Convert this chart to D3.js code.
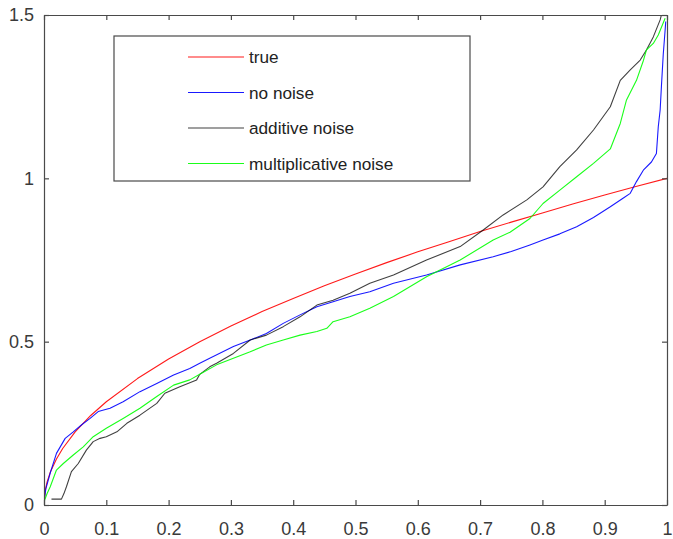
<!DOCTYPE html>
<html>
<head>
<meta charset="utf-8">
<script src="https://cdn.jsdelivr.net/npm/d3@7"></script>
<style>
  html, body { margin: 0; padding: 0; background: #fff; }
  svg { display: block; }
  text { font-family: "Liberation Sans", Arial, Helvetica, sans-serif; }
</style>
</head>
<body>
<svg id="chart" width="673" height="539"></svg>
<script>
// ---- data ----
const xTicks = [0, 0.1, 0.2, 0.3, 0.4, 0.5, 0.6, 0.7, 0.8, 0.9, 1];
const xTickLabels = ["0", "0.1", "0.2", "0.3", "0.4", "0.5", "0.6", "0.7", "0.8", "0.9", "1"];
const yTicks = [0, 0.5, 1, 1.5];
const yTickLabels = ["0", "0.5", "1", "1.5"];

const seriesNames = ["true", "no noise", "additive noise", "multiplicative noise"];

const trueCurve = [[0,0],[0.002,0.045],[0.005,0.071],[0.01,0.1],[0.02,0.141],[0.03,0.173],[0.05,0.224],[0.075,0.274],[0.1,0.316],[0.15,0.387],[0.2,0.447],[0.25,0.5],[0.3,0.548],[0.35,0.592],[0.4,0.632],[0.45,0.671],[0.5,0.707],[0.55,0.742],[0.6,0.775],[0.65,0.806],[0.7,0.837],[0.75,0.866],[0.8,0.894],[0.85,0.922],[0.9,0.949],[0.95,0.975],[1,1]];

const noNoise = [[0,0.01],[0.003,0.05],[0.01,0.098],[0.02,0.158],[0.034,0.204],[0.047,0.224],[0.06,0.245],[0.074,0.265],[0.087,0.286],[0.106,0.296],[0.127,0.316],[0.154,0.347],[0.181,0.372],[0.208,0.398],[0.234,0.418],[0.25,0.434],[0.266,0.449],[0.304,0.485],[0.331,0.505],[0.357,0.525],[0.384,0.556],[0.411,0.582],[0.438,0.607],[0.464,0.622],[0.491,0.638],[0.523,0.653],[0.561,0.679],[0.614,0.704],[0.668,0.735],[0.721,0.760],[0.75,0.776],[0.78,0.796],[0.801,0.811],[0.828,0.83],[0.855,0.852],[0.882,0.88],[0.909,0.913],[0.93,0.94],[0.941,0.954],[0.951,0.99],[0.962,1.025],[0.975,1.05],[0.983,1.076],[0.986,1.158],[0.989,1.209],[0.991,1.28],[0.994,1.38],[0.997,1.454],[0.998,1.48]];

const additiveNoise = [[0.012,0.018],[0.028,0.018],[0.032,0.035],[0.036,0.056],[0.044,0.102],[0.055,0.127],[0.068,0.168],[0.079,0.194],[0.09,0.204],[0.1,0.209],[0.117,0.224],[0.133,0.25],[0.154,0.275],[0.181,0.311],[0.194,0.342],[0.218,0.362],[0.245,0.383],[0.25,0.4],[0.266,0.423],[0.277,0.434],[0.304,0.464],[0.331,0.505],[0.357,0.52],[0.384,0.546],[0.411,0.576],[0.438,0.612],[0.464,0.627],[0.491,0.648],[0.523,0.679],[0.561,0.704],[0.614,0.75],[0.668,0.791],[0.705,0.842],[0.737,0.888],[0.775,0.934],[0.801,0.974],[0.828,1.036],[0.855,1.087],[0.882,1.148],[0.909,1.219],[0.925,1.3],[0.941,1.332],[0.957,1.362],[0.967,1.393],[0.978,1.433],[0.989,1.485],[0.991,1.5]];

const multiplicativeNoise = [[0,0.01],[0.005,0.035],[0.01,0.056],[0.02,0.107],[0.031,0.127],[0.047,0.153],[0.063,0.178],[0.079,0.209],[0.1,0.235],[0.127,0.265],[0.154,0.296],[0.181,0.332],[0.208,0.367],[0.234,0.383],[0.25,0.4],[0.277,0.429],[0.304,0.449],[0.331,0.469],[0.357,0.49],[0.384,0.505],[0.411,0.52],[0.438,0.531],[0.454,0.541],[0.464,0.561],[0.491,0.576],[0.523,0.602],[0.561,0.638],[0.614,0.699],[0.668,0.75],[0.721,0.811],[0.748,0.835],[0.78,0.877],[0.801,0.923],[0.828,0.964],[0.855,1.005],[0.882,1.046],[0.909,1.09],[0.925,1.168],[0.935,1.24],[0.951,1.3],[0.962,1.36],[0.967,1.393],[0.978,1.413],[0.986,1.439],[0.997,1.49]];

const seriesData = [trueCurve, noNoise, additiveNoise, multiplicativeNoise];
const seriesColors = ["#ff0000", "#0000ff", "#000000", "#00ff00"];

// ---- layout ----
const svg = d3.select("#chart");
const L = 44, R = 667, T = 15, B = 505;
const axisColor = "#4a4a4a";
const textColor = "#3a3a3a";

const x = d3.scaleLinear().domain([0, 1]).range([L, R]);
const y = d3.scaleLinear().domain([0, 1.5]).range([B, T]);

// clip
svg.append("defs").append("clipPath").attr("id", "clip")
  .append("rect").attr("x", L).attr("y", T).attr("width", R - L).attr("height", B - T);

// series lines
const line = d3.line().x(d => x(d[0])).y(d => y(d[1]));
const g = svg.append("g").attr("clip-path", "url(#clip)");
seriesData.forEach((s, i) => {
  g.append("path").datum(s)
    .attr("d", line)
    .attr("fill", "none")
    .attr("stroke", seriesColors[i])
    .attr("stroke-width", 1.1)
    .attr("stroke-opacity", i === 2 ? 0.75 : 0.9)
    .attr("stroke-linejoin", "round");
});

// axes (MATLAB-style box with inward ticks)
const tickLen = 5;
const xAxisB = d3.axisBottom(x).tickValues(xTicks).tickSizeInner(-tickLen).tickSizeOuter(0)
  .tickPadding(17).tickFormat((d, i) => xTickLabels[i]);
const xAxisT = d3.axisTop(x).tickValues(xTicks).tickSizeInner(-tickLen).tickSizeOuter(0).tickFormat("");
const yAxisL = d3.axisLeft(y).tickValues(yTicks).tickSizeInner(-tickLen).tickSizeOuter(0)
  .tickPadding(10).tickFormat((d, i) => yTickLabels[i]);
const yAxisR = d3.axisRight(y).tickValues(yTicks).tickSizeInner(-tickLen).tickSizeOuter(0).tickFormat("");

function style(sel) {
  sel.select(".domain").attr("stroke", axisColor).attr("stroke-width", 1.2);
  sel.selectAll(".tick line").attr("stroke", axisColor).attr("stroke-width", 1.2);
  sel.selectAll(".tick text").attr("fill", textColor).attr("font-size", 18)
    .attr("font-family", "'Liberation Sans', Arial, Helvetica, sans-serif");
}
svg.append("g").attr("transform", `translate(0,${B})`).call(xAxisB).call(style);
svg.append("g").attr("transform", `translate(0,${T})`).call(xAxisT).call(style);
svg.append("g").attr("transform", `translate(${L},0)`).call(yAxisL).call(style);
svg.append("g").attr("transform", `translate(${R},0)`).call(yAxisR).call(style);

// legend
const lg = svg.append("g");
lg.append("rect").attr("x", 114).attr("y", 36).attr("width", 356).attr("height", 145)
  .attr("fill", "#fff").attr("stroke", axisColor).attr("stroke-width", 1.2);
const rowY = [57, 92.5, 128, 163.5];
seriesNames.forEach((name, i) => {
  lg.append("line").attr("x1", 188).attr("x2", 244).attr("y1", rowY[i]).attr("y2", rowY[i])
    .attr("stroke", seriesColors[i]).attr("stroke-width", 1.1)
    .attr("stroke-opacity", i === 2 ? 0.75 : 0.9);
  lg.append("text").attr("x", 249).attr("y", rowY[i]).attr("dy", "0.35em")
    .attr("font-size", 17.2).attr("fill", "#222").text(name);
});
</script>
</body>
</html>
